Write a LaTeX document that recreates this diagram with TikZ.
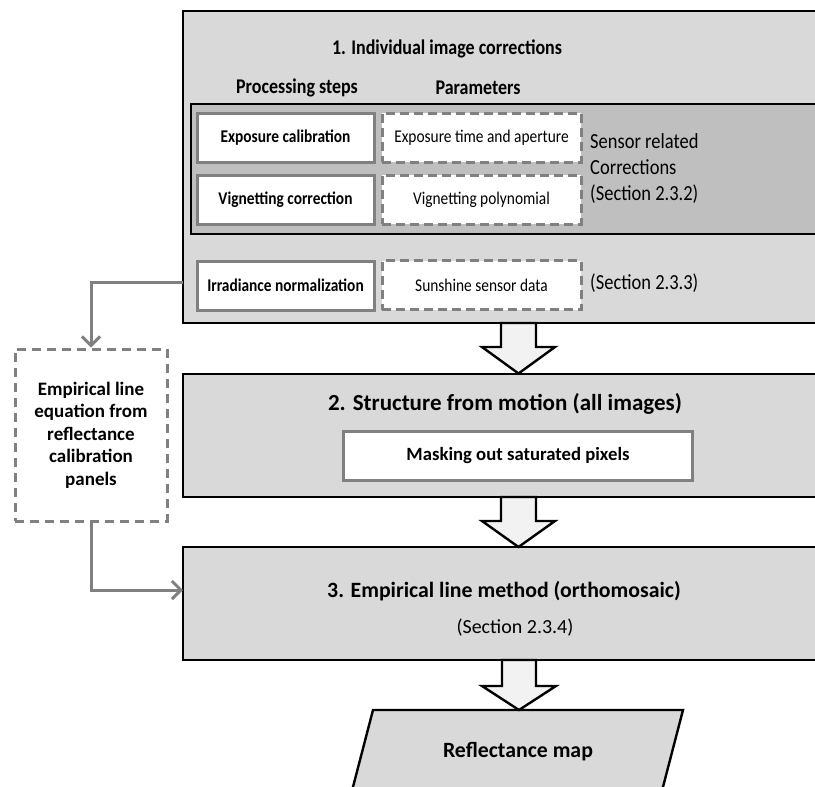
\documentclass[tikz,border=0pt]{standalone}
\usepackage{fontspec}
\setmainfont{Carlito}
\usetikzlibrary{arrows.meta,calc}
\definecolor{boxfill}{HTML}{D9D9D9}
\definecolor{grpfill}{HTML}{BFBFBF}
\definecolor{linegray}{HTML}{808080}
\definecolor{arrfill}{HTML}{F2F2F2}
\newcommand{\sq}[1]{\scalebox{0.86}[1]{#1}}
\tikzset{
  mainbox/.style={draw=black, line width=2.4pt, fill=boxfill, inner sep=0pt, outer sep=0pt},
  grpbox/.style={draw=black, line width=2pt, fill=grpfill, inner sep=0pt, outer sep=0pt},
  stepbox/.style={draw=linegray, line width=3pt, fill=white, inner sep=0pt, outer sep=0pt,
     minimum width=177pt, minimum height=49pt, font=\fontsize{17.9}{20}\selectfont\bfseries},
  parbox/.style={draw=linegray, line width=3pt, dash pattern=on 9pt off 5pt, fill=white, inner sep=0pt, outer sep=0pt,
     minimum width=199pt, minimum height=49pt, font=\fontsize{17.9}{20}\selectfont},
  bigtitle/.style={font=\fontsize{20.9}{24}\selectfont\bfseries, inner sep=0pt},
  plain/.style={font=\fontsize{21.5}{26}\selectfont, inner sep=0pt, anchor=west},
  blockarrow/.style={draw=black, line width=2.4pt, fill=arrfill, line join=miter},
  conn/.style={draw=linegray, line width=3pt, -{Straight Barb[length=9pt,width=18pt,line width=3pt]}},
}
\begin{document}
\begin{tikzpicture}[x=1pt,y=-1pt]
\clip (0,0) rectangle (815,787);
\fill[white] (0,0) rectangle (815,787);
% box 1
\node[mainbox, minimum width=647pt, minimum height=312pt] (b1) at (506.5,167) {};
\node[bigtitle] (t1) at (447,49) {\sq{1. Individual image corrections}};
\node[bigtitle] (hps) at (297,88) {\sq{Processing steps}};
\node[bigtitle] (hpa) at (478,88) {\sq{Parameters}};
\node[grpbox, minimum width=639pt, minimum height=130pt] (grp) at (510.5,169) {};
\node[stepbox] (exp) at (285.5,137.5) {\sq{Exposure calibration}};
\node[parbox] (expp) at (481.5,137.5) {\sq{Exposure time and aperture}};
\node[stepbox] (vig) at (285.5,199.5) {\sq{Vignetting correction}};
\node[parbox] (vigp) at (481.5,199.5) {\sq{Vignetting polynomial}};
\node[plain] (sens1) at (590,141) {\sq{Sensor related}};
\node[plain] (sens2) at (590,167.5) {\sq{Corrections}};
\node[plain] (sens3) at (590,194) {\sq{(Section 2.3.2)}};
\node[stepbox] (irr) at (285.5,285.5) {\sq{Irradiance normalization}};
\node[parbox] (sun) at (481.5,285) {\sq{Sunshine sensor data}};
\node[plain] (s233) at (590,283) {\sq{(Section 2.3.3)}};
% empirical box
\node[draw=linegray, line width=3pt, dash pattern=on 9pt off 6pt, fill=white, inner sep=0pt,
  minimum width=152pt, minimum height=172pt, align=center,
  font=\fontsize{19}{22.5}\selectfont\bfseries] (emp) at (91,435)
  {Empirical line\\equation from\\reflectance\\calibration\\panels};
% box 2
\node[mainbox, minimum width=647pt, minimum height=123pt] (b2) at (506.5,435.5) {};
\node[font=\fontsize{23}{26}\selectfont\bfseries, inner sep=0pt] (t2) at (505,404) {2. Structure from motion (all images)};
\node[stepbox, minimum width=349pt, minimum height=49pt, font=\fontsize{18.7}{21}\selectfont\bfseries] (mask) at (518,455.5) {Masking out saturated pixels};
% box 3
\node[mainbox, minimum width=647pt, minimum height=113pt] (b3) at (506.5,603.5) {};
\node[font=\fontsize{21.8}{25}\selectfont\bfseries, inner sep=0pt] (t3) at (504,591) {3. Empirical line method (orthomosaic)};
\node[font=\fontsize{20}{24}\selectfont, inner sep=0pt] (s234) at (515,628) {(Section 2.3.4)};
% reflectance map
\draw[mainbox] (373,710) -- (683,710) -- (659.6,800) -- (349.6,800) -- cycle;
\node[font=\fontsize{21.8}{25}\selectfont\bfseries, inner sep=0pt] (refl) at (518,752) {Reflectance map};
% block arrows
\draw[blockarrow] (501,323) -- (536,323) -- (536,347) -- (555,347) -- (518.5,373.5) -- (482,347) -- (501,347) -- cycle;
\draw[blockarrow] (501,497) -- (536,497) -- (536,521) -- (555,521) -- (518.5,547) -- (482,521) -- (501,521) -- cycle;
\draw[blockarrow] (502,660) -- (536,660) -- (536,686) -- (556,686) -- (519,710) -- (482,686) -- (502,686) -- cycle;
% connectors
\coordinate (c1) at (b1.west |- 0,282);
\draw[conn] (c1) -| (emp.north);
\coordinate (c3) at (b3.west |- 0,590);
\draw[conn] (emp.south) |- (c3);
\end{tikzpicture}
\end{document}
